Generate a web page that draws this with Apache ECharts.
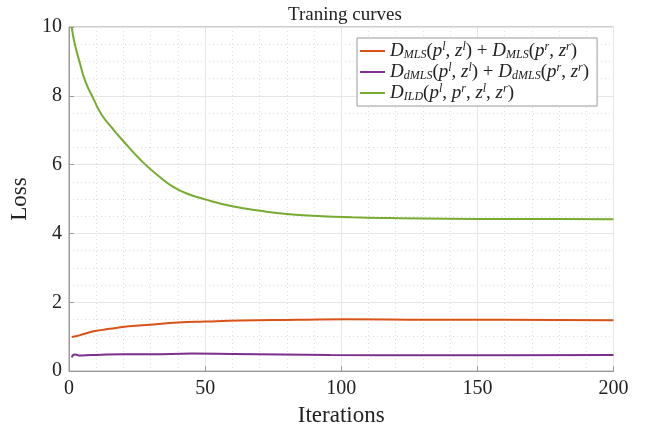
<!DOCTYPE html>
<html><head><meta charset="utf-8">
<script src="https://cdn.jsdelivr.net/npm/echarts@6/dist/echarts.min.js"></script>
<style>html,body{margin:0;padding:0;background:#fff}#c{width:650px;height:432px}</style>
</head><body><div id="c"></div>
<script>
const seriesNames = ['mls', 'dmls', 'ild'];
const xMls  = [1, 3, 5, 10, 15, 22, 30, 40, 50, 63, 84, 102, 133, 160, 200];
const yMls  = [0.99, 1.02, 1.07, 1.17, 1.23, 1.30, 1.35, 1.41, 1.44, 1.47, 1.49, 1.51, 1.49, 1.49, 1.48];
const xDmls = [1, 2, 3, 4, 6, 10, 20, 30, 45, 60, 96, 133, 160, 200];
const yDmls = [0.40, 0.48, 0.47, 0.45, 0.46, 0.47, 0.49, 0.49, 0.51, 0.50, 0.47, 0.46, 0.46, 0.47];
const xIld  = [1, 2, 4, 6, 9, 12, 16, 20, 27, 34, 38, 43, 50, 60, 71, 82, 93, 104, 115, 122, 140, 160, 180, 200];
const yIld  = [10.0, 9.55, 8.95, 8.42, 7.91, 7.45, 7.05, 6.68, 6.08, 5.60, 5.37, 5.17, 4.99, 4.79, 4.65, 4.55, 4.50, 4.47, 4.45, 4.44, 4.43, 4.42, 4.42, 4.41];
const xTicks = [0, 50, 100, 150, 200];
const yTicks = [0, 2, 4, 6, 8, 10];

const colors = ['#D95319', '#7E2F8E', '#77AC30'];
const FONT = 'Liberation Serif';
const legendText = {
  mls: '{m|D}{s|MLS}{n|(}{m|p}{u|l}{n|, }{m|z}{u|l}{n|) + }{m|D}{s|MLS}{n|(}{m|p}{u|r}{n|, }{m|z}{u|r}{n|)}',
  dmls: '{m|D}{s|dMLS}{n|(}{m|p}{u|l}{n|, }{m|z}{u|l}{n|) + }{m|D}{s|dMLS}{n|(}{m|p}{u|r}{n|, }{m|z}{u|r}{n|)}',
  ild: '{m|D}{s|ILD}{n|(}{m|p}{u|l}{n|, }{m|p}{u|r}{n|, }{m|z}{u|l}{n|, }{m|z}{u|r}{n|)}'
};
const pairs = (xs, ys) => xs.map((x, i) => [x, ys[i]]);
const dataSets = [pairs(xMls, yMls), pairs(xDmls, yDmls), pairs(xIld, yIld)];

const chart = echarts.init(document.getElementById('c'));
chart.setOption({
  animation: false,
  title: {
    text: 'Traning curves', left: 340, top: 1, textAlign: 'center',
    textStyle: {fontFamily: FONT, fontWeight: 'normal', fontSize: 19, color: '#222'}
  },
  grid: {left: 66.5, right: 36.5, top: 27, bottom: 60, show: true, borderColor: '#9a9a9a', borderWidth: 1, backgroundColor: '#fff'},
  legend: {
    orient: 'vertical', left: 357, top: 38, itemWidth: 25, itemHeight: 2, itemGap: 1, icon: 'rect',
    padding: [3, 8, 3, 3], borderColor: '#9a9a9a', borderWidth: 1, backgroundColor: '#fff',
    data: seriesNames,
    formatter: n => legendText[n],
    textStyle: {
      fontFamily: FONT, color: '#222',
      rich: {
        m: {fontFamily: FONT, fontStyle: 'italic', fontSize: 19, color: '#222', lineHeight: 20},
        n: {fontFamily: FONT, fontSize: 19, color: '#222', lineHeight: 20},
        s: {fontFamily: FONT, fontStyle: 'italic', fontSize: 12, color: '#222', verticalAlign: 'bottom', lineHeight: 12, padding: [6, 0, 0, 0]},
        u: {fontFamily: FONT, fontStyle: 'italic', fontSize: 12, color: '#222', verticalAlign: 'top', lineHeight: 12, padding: [0, 0, 6, 0]}
      }
    }
  },
  xAxis: {
    type: 'value', min: xTicks[0], max: xTicks[xTicks.length - 1], interval: 50,
    name: 'Iterations', nameLocation: 'middle', nameGap: 32,
    nameTextStyle: {fontFamily: FONT, fontSize: 23, color: '#222'},
    axisLine: {show: true, lineStyle: {color: '#9a9a9a'}},
    axisTick: {show: true, inside: true, length: 5, lineStyle: {color: '#9a9a9a'}},
    axisLabel: {fontFamily: FONT, fontSize: 20, color: '#222', margin: 8},
    splitLine: {show: true, lineStyle: {color: '#e6e6e6', width: 1}},
    minorTick: {show: false, splitNumber: 5},
    minorSplitLine: {show: true, lineStyle: {color: '#dedede', type: [1, 3], width: 1}}
  },
  yAxis: {
    type: 'value', min: yTicks[0], max: yTicks[yTicks.length - 1], interval: 2,
    name: 'Loss', nameLocation: 'middle', nameGap: 38,
    nameTextStyle: {fontFamily: FONT, fontSize: 23, color: '#222'},
    axisLine: {show: true, lineStyle: {color: '#9a9a9a'}},
    axisTick: {show: true, inside: true, length: 5, lineStyle: {color: '#9a9a9a'}},
    axisLabel: {fontFamily: FONT, fontSize: 20, color: '#222', margin: 7},
    splitLine: {show: true, lineStyle: {color: '#e6e6e6', width: 1}},
    minorTick: {show: false, splitNumber: 4},
    minorSplitLine: {show: true, lineStyle: {color: '#dedede', type: [1, 3], width: 1}}
  },
  series: seriesNames.map((n, i) => ({
    name: n, type: 'line', data: dataSets[i], smooth: 0.5, showSymbol: false, symbol: 'none',
    lineStyle: {color: colors[i], width: 2}, itemStyle: {color: colors[i]}
  }))
});
</script></body></html>
